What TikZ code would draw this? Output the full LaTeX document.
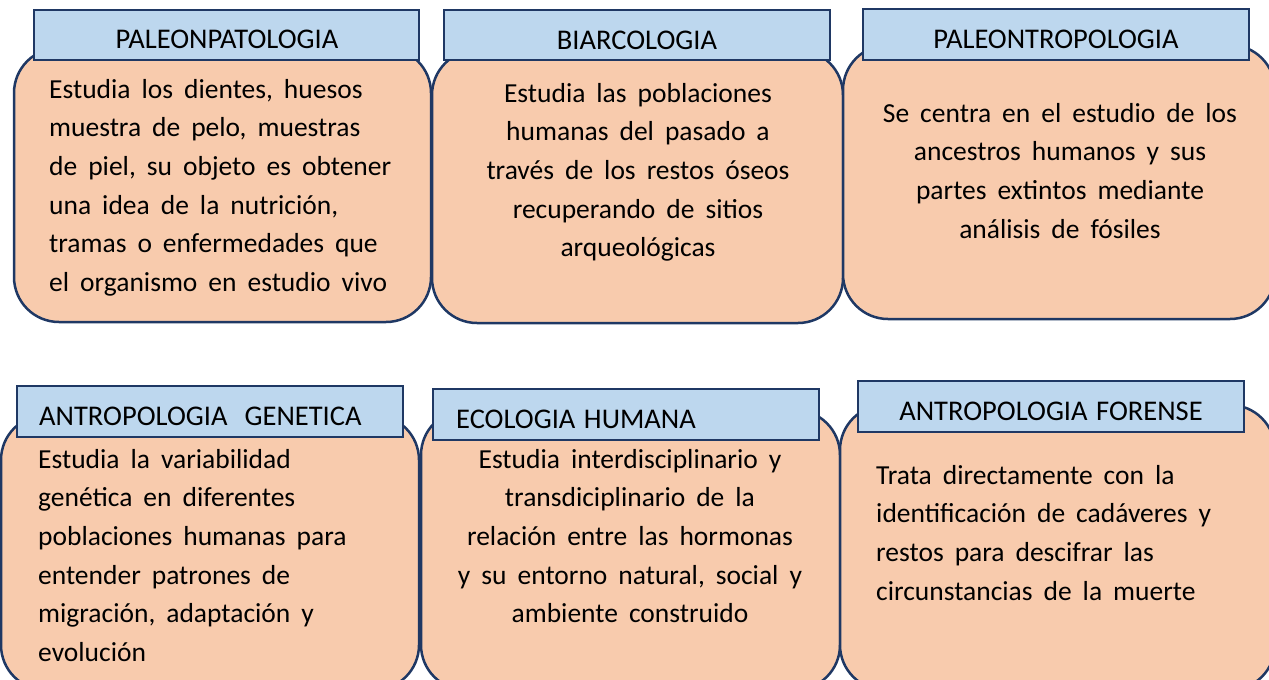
\documentclass[tikz,border=0pt]{standalone}
\usepackage{fontspec}
\setmainfont{Carlito}
\definecolor{peach}{HTML}{F8CBAD}
\definecolor{lblue}{HTML}{BDD7EE}
\definecolor{navy}{HTML}{1F3864}
\newcommand{\bodyfnt}{\fontsize{27.5}{38.7}\selectfont\spaceskip=0.4em plus 0.05em minus 0.05em\relax}
\newcommand{\ttlfnt}{\fontsize{28.5}{34}\selectfont\spaceskip=0.3em\relax}
\tikzset{
  bodybox/.style={draw=navy, fill=peach, line width=2.5pt, rounded corners=45pt, inner sep=0pt},
  lblbox/.style={draw=navy, fill=lblue, line width=2.5pt, inner sep=0pt},
  ttl/.style={font=\ttlfnt, inner sep=0pt, text=black},
  txt/.style={font=\bodyfnt, inner sep=0pt, text=black},
}
\begin{document}
\begin{tikzpicture}[x=1pt,y=-1pt]
\useasboundingbox (0,0) rectangle (1269,680);
\clip (0,0) rectangle (1269,680);
% bodies
\node[bodybox, minimum width=417pt, minimum height=274pt] (b1) at (222.5,185) {};
\node[bodybox, minimum width=411pt, minimum height=273pt] (b2) at (637.5,186.5) {};
\node[bodybox, minimum width=432pt, minimum height=274pt] (b3) at (1059,182) {};
\node[bodybox, minimum width=418pt, minimum height=275pt] (b4) at (210,552.5) {};
\node[bodybox, minimum width=419pt, minimum height=280pt] (b5) at (630.5,550) {};
\node[bodybox, minimum width=435pt, minimum height=285pt] (b6) at (1057.5,547.5) {};
% labels
\node[lblbox, minimum width=385pt, minimum height=50pt] (l1) at (226.5,35) {};
\node[lblbox, minimum width=386pt, minimum height=50pt] (l2) at (637,35) {};
\node[lblbox, minimum width=386pt, minimum height=51pt] (l3) at (1056,34.5) {};
\node[lblbox, minimum width=386pt, minimum height=51pt] (l4) at (210,411.5) {};
\node[lblbox, minimum width=386pt, minimum height=51pt] (l5) at (626,414.5) {};
\node[lblbox, minimum width=386pt, minimum height=51pt] (l6) at (1051,406.5) {};
% titles
\node[ttl, anchor=base] (t1) at (227,48) {PALEONPATOLOGIA};
\node[ttl, anchor=base] (t2) at (637,49) {BIARCOLOGIA};
\node[ttl, anchor=base] (t3) at (1056,48) {PALEONTROPOLOGIA};
\node[ttl, anchor=base west] (t4) at (39,425) {ANTROPOLOGIA\ \ GENETICA};
\node[ttl, anchor=base west] (t5) at (456,428) {ECOLOGIA HUMANA};
\node[ttl, anchor=base] (t6) at (1051,420) {ANTROPOLOGIA FORENSE};
% body texts
\node[txt, align=left, anchor=north west] (x1) at (49,70.9) {\strut Estudia los dientes, huesos\\muestra de pelo, muestras\\de piel, su objeto es obtener\\una idea de la nutrición,\\tramas o enfermedades que\\el organismo en estudio vivo};
\node[txt, align=center, anchor=north] (x2) at (638,74.9) {\strut Estudia las poblaciones\\humanas del pasado a\\través de los restos óseos\\recuperando de sitios\\arqueológicas};
\node[txt, align=center, anchor=north] (x3) at (1060,94.9) {\strut Se centra en el estudio de los\\ancestros humanos y sus\\partes extintos mediante\\análisis de fósiles};
\node[txt, align=left, anchor=north west] (x4) at (38,440.9) {\strut Estudia la variabilidad\\genética en diferentes\\poblaciones humanas para\\entender patrones de\\migración, adaptación y\\evolución};
\node[txt, align=center, anchor=north] (x5) at (630,440.9) {\strut Estudia interdisciplinario y\\transdiciplinario de la\\relación entre las hormonas\\y su entorno natural, social y\\ambiente construido};
\node[txt, align=left, anchor=north west] (x6) at (876,456.9) {\strut Trata directamente con la\\identificación de cadáveres y\\restos para descifrar las\\circunstancias de la muerte};
\end{tikzpicture}
\end{document}
